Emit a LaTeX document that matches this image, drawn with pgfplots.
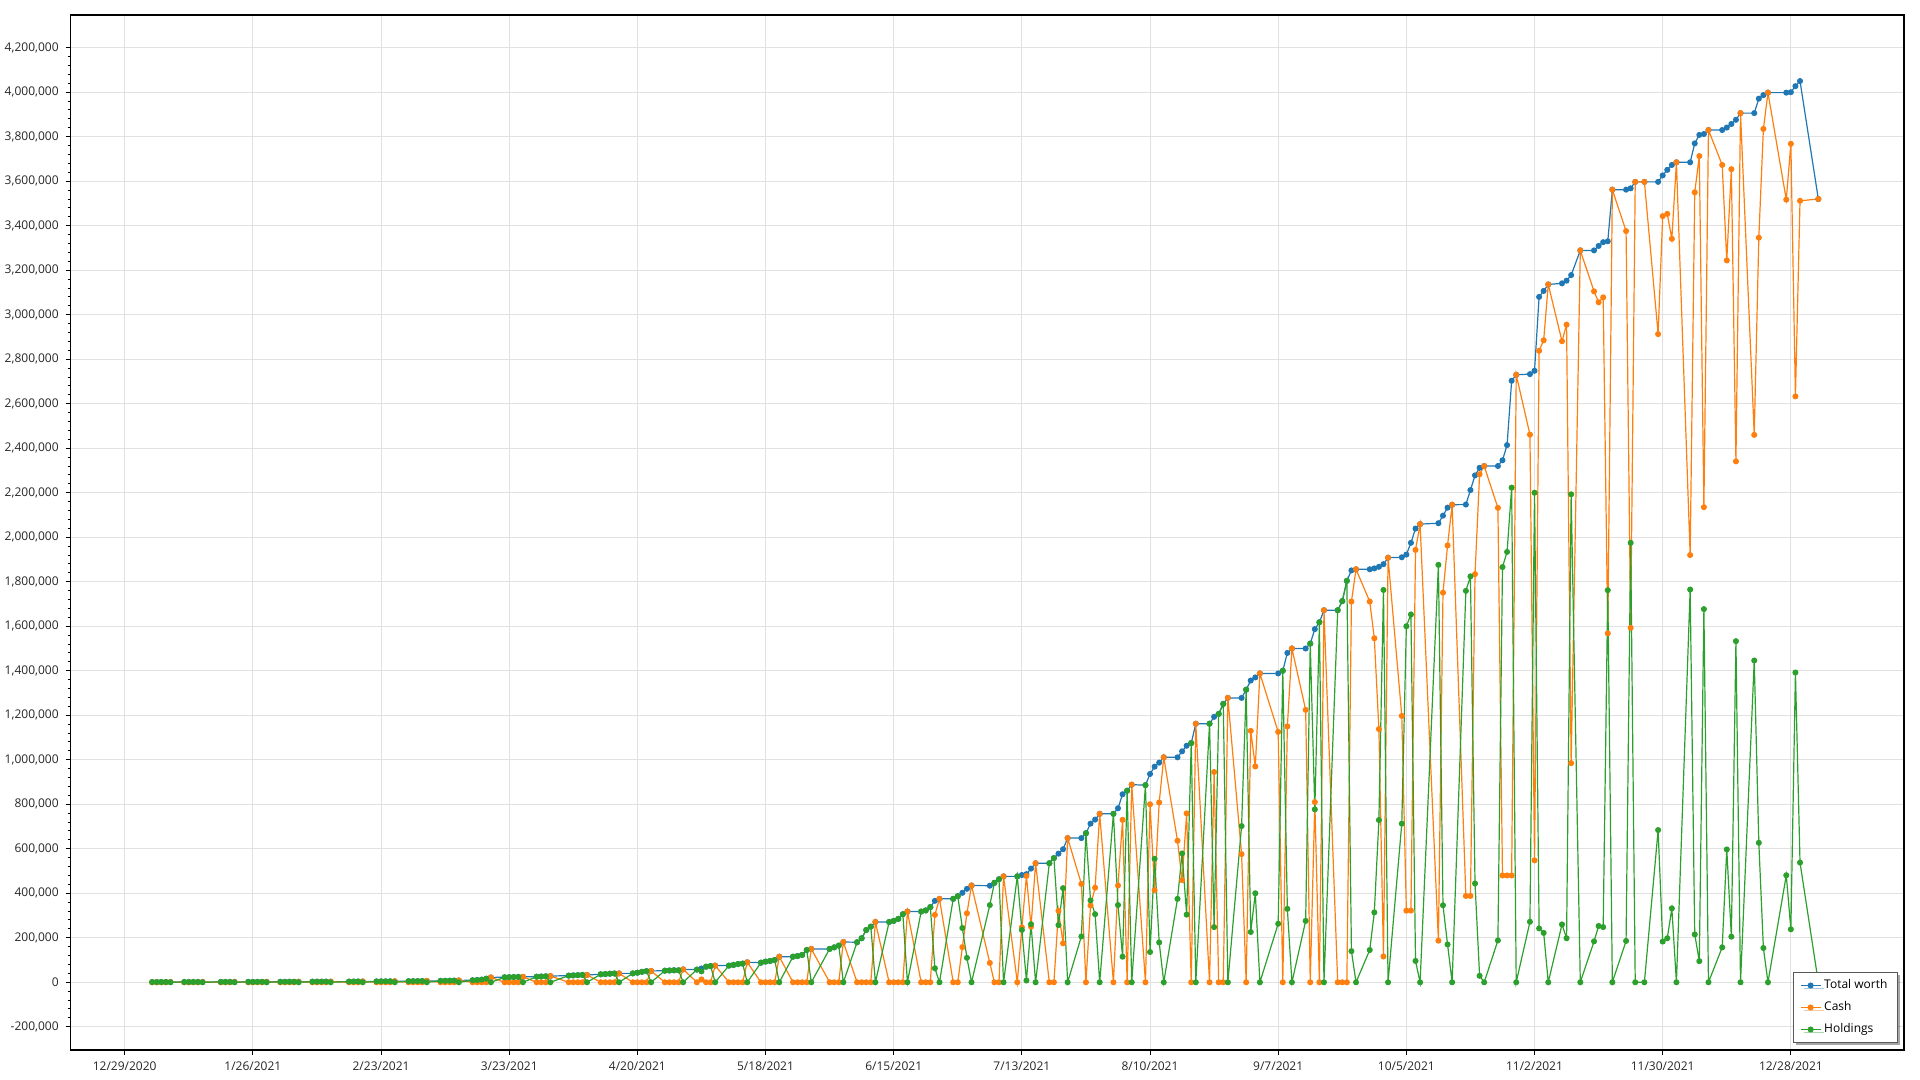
\documentclass[border=0pt]{standalone}
\usepackage{fontspec}
\setmainfont{Open Sans}
\usepackage{pgfplots}
\pgfplotsset{compat=1.18}
\usepackage{pgfplotstable}
\usetikzlibrary{shadows}

\definecolor{cT}{HTML}{1F77B4}
\definecolor{cC}{HTML}{FF7F0E}
\definecolor{cH}{HTML}{2CA02C}
\definecolor{gridc}{HTML}{E1E1E1}

% d = days since 12/29/2020, T = total worth, C = cash, H = holdings
\pgfplotstableread{
d T C H
6 1000 0 1000
7 1000 0 1000
8 1100 0 1100
9 1100 0 1100
10 1200 1200 0
13 1200 0 1200
14 1300 0 1300
15 1300 0 1300
16 1400 0 1400
17 1400 1400 0
21 1500 0 1500
22 1500 0 1500
23 1600 0 1600
24 1600 1600 0
27 1700 0 1700
28 1700 0 1700
29 1800 0 1800
30 1900 0 1900
31 2000 2000 0
34 2000 0 2000
35 2100 0 2100
36 2200 0 2200
37 2300 0 2300
38 2400 2400 0
41 2500 0 2500
42 2600 0 2600
43 2700 0 2700
44 2800 0 2800
45 3000 3000 0
49 3100 0 3100
50 3300 0 3300
51 3500 0 3500
52 3700 3700 0
55 3800 0 3800
56 4000 0 4000
57 4200 0 4200
58 4400 0 4400
59 4600 4600 0
62 4800 0 4800
63 5000 0 5000
64 5300 0 5300
65 5600 0 5600
66 6000 6000 0
69 6300 0 6300
70 6600 0 6600
71 7000 0 7000
72 7500 0 7500
73 8500 8500 0
76 9000 0 9000
77 10000 0 10000
78 12000 0 12000
79 16000 0 16000
80 22000 22000 0
83 22500 0 22500
84 23000 0 23000
85 23500 0 23500
86 24000 0 24000
87 24500 24500 0
90 25000 0 25000
91 26000 0 26000
92 27000 0 27000
93 28000 28000 0
97 30000 0 30000
98 31000 0 31000
99 32000 0 32000
100 33000 0 33000
101 33000 33000 0
104 36000 0 36000
105 37000 0 37000
106 38500 0 38500
107 39500 0 39500
108 40000 40000 0
111 40000 0 40000
112 43000 0 43000
113 47000 0 47000
114 50000 0 50000
115 51000 51000 0
118 52000 0 52000
119 53000 0 53000
120 54000 0 54000
121 54000 0 54000
122 58000 58000 0
125 57000 0 57000
126 62000 13000 49000
127 70000 0 70000
128 73000 0 73000
129 75000 75000 0
132 75000 0 75000
133 78000 0 78000
134 82000 0 82000
135 84000 0 84000
136 90000 90000 0
139 88000 0 88000
140 93000 0 93000
141 96000 0 96000
142 100000 0 100000
143 115000 115000 0
146 115000 0 115000
147 118000 0 118000
148 123000 0 123000
149 145000 0 145000
150 150000 150000 0
154 150000 0 150000
155 157000 0 157000
156 165000 0 165000
157 181000 181000 0
160 180000 0 180000
161 198000 0 198000
162 235000 0 235000
163 250000 0 250000
164 271000 271000 0
167 271000 0 271000
168 276000 0 276000
169 285000 0 285000
170 306000 0 306000
171 318000 318000 0
174 318000 0 318000
175 323000 0 323000
176 338000 0 338000
177 366000 303000 63000
178 375000 375000 0
181 375000 0 375000
182 387000 0 387000
183 402000 158000 244000
184 420000 310000 110000
185 435000 435000 0
189 434000 87000 347000
190 447000 0 447000
191 463000 0 463000
192 476000 476000 0
195 476000 0 476000
196 482000 247000 235000
197 486000 478000 8000
198 511000 250000 261000
199 535000 535000 0
202 535000 0 535000
203 558000 0 558000
204 578000 321000 257000
205 598000 175000 423000
206 648000 648000 0
209 648000 442000 206000
210 670000 0 670000
211 713000 345000 368000
212 731000 425000 306000
213 757000 757000 0
216 757000 0 757000
217 782000 435000 347000
218 845000 730000 115000
219 861000 0 861000
220 888000 888000 0
223 886000 0 886000
224 936000 800000 136000
225 969000 414000 555000
226 987000 808000 179000
227 1011000 1011000 0
230 1011000 636000 375000
231 1038000 459000 579000
232 1063000 759000 304000
233 1075000 0 1075000
234 1162000 1162000 0
237 1162000 0 1162000
238 1193000 945000 248000
239 1206000 0 1206000
240 1251000 0 1251000
241 1278000 1278000 0
244 1278000 576000 702000
245 1315000 0 1315000
246 1356000 1130000 226000
247 1370000 970000 400000
248 1388000 1388000 0
252 1388000 1125000 263000
253 1400000 0 1400000
254 1480000 1150000 330000
255 1500000 1500000 0
258 1500000 1224000 276000
259 1522000 0 1522000
260 1587000 810000 777000
261 1618000 0 1618000
262 1672000 1672000 0
265 1672000 0 1672000
266 1713000 0 1713000
267 1804000 0 1804000
268 1851000 1711000 140000
269 1856000 1856000 0
272 1856000 1711000 145000
273 1860000 1546000 314000
274 1867000 1138000 729000
275 1879000 116000 1763000
276 1908000 1908000 0
279 1910000 1197000 713000
280 1922000 322000 1600000
281 1975000 322000 1653000
282 2039000 1943000 96000
283 2059000 2059000 0
287 2063000 187000 1876000
288 2097000 1751000 346000
289 2133000 1963000 170000
290 2146000 2146000 0
293 2147000 388000 1759000
294 2212000 388000 1824000
295 2278000 1834000 444000
296 2312000 2283000 29000
297 2320000 2320000 0
300 2320000 2132000 188000
301 2346000 480000 1866000
302 2414000 480000 1934000
303 2703000 480000 2223000
304 2730000 2730000 0
307 2733000 2461000 272000
308 2748000 548000 2200000
309 3080000 2838000 242000
310 3107000 2885000 222000
311 3136000 3136000 0
314 3141000 2881000 260000
315 3153000 2955000 198000
316 3178000 985000 2193000
318 3289000 3289000 0
321 3289000 3105000 184000
322 3309000 3056000 253000
323 3326000 3078000 248000
324 3330000 1568000 1762000
325 3562000 3562000 0
328 3562000 3376000 186000
329 3568000 1593000 1975000
330 3597000 3597000 0
332 3597000 3597000 0
335 3597000 2913000 684000
336 3626000 3443000 183000
337 3651000 3453000 198000
338 3673000 3341000 332000
339 3685000 3685000 0
342 3685000 1920000 1765000
343 3770000 3550000 215000
344 3808000 3713000 95000
345 3812000 2135000 1677000
346 3830000 3830000 0
349 3830000 3673000 157000
350 3841000 3244000 597000
351 3857000 3654000 205000
352 3876000 2341000 1533000
353 3906000 3906000 0
356 3906000 2460000 1446000
357 3971000 3346000 627000
358 3987000 3835000 154000
359 3998000 3998000 0
363 3998000 3517000 481000
364 4000000 3768000 238000
365 4027000 2633000 1392000
366 4050000 3512000 538000
370 3520000 3520000 0
}\data

\begin{document}
\begin{tikzpicture}
\useasboundingbox (0,0) rectangle (960pt,540pt);
\begin{axis}[
  scale only axis,
  width=916.6pt, height=517.5pt,
  at={(35.35pt,15pt)}, anchor=south west,
  xmin=-11.8, xmax=388.7,
  ymin=-304300, ymax=4347000,
  xtick={0,28,...,364},
  xticklabels={12/29/2020,1/26/2021,2/23/2021,3/23/2021,4/20/2021,5/18/2021,6/15/2021,7/13/2021,8/10/2021,9/7/2021,10/5/2021,11/2/2021,11/30/2021,12/28/2021},
  ytick={-200000,0,...,4200000},
  minor y tick num=4,
  scaled y ticks=false,
  /pgf/number format/assume math mode=true,
  yticklabel style={/pgf/number format/.cd, fixed, precision=0, 1000 sep={,}},
  tick label style={font=\fontsize{6}{7}\selectfont, text=black!85},
  tick pos=left,
  tick align=outside,
  major tick length=2.5pt,
  minor tick length=1.5pt,
  every tick/.style={black, line width=0.5pt},
  grid=major,
  grid style={gridc, line width=0.5pt},
  axis line style={black, line width=0.6pt},
  legend image code/.code={\draw[mark repeat=2,mark phase=2] plot coordinates {(0pt,0pt) (5pt,0pt) (10pt,0pt)};},
  legend cell align=left,
  legend style={at={(axis description cs:1,0)}, anchor=south east, xshift=-3pt, yshift=3.5pt,
    draw=black!65, line width=0.5pt, fill=white,
    font=\fontsize{6}{7}\selectfont,
    inner xsep=3.5pt, inner ysep=2pt, row sep=2pt,
    nodes={inner sep=1.5pt, text height=4.6pt, text depth=1.4pt},
    drop shadow={shadow xshift=1.5pt, shadow yshift=-1.5pt, fill=black, opacity=0.35}},
]
\addplot[cT, line width=0.6pt, mark=*, mark size=1.2pt] table[x=d, y=T] {\data};
\addlegendentry{Total worth}
\addplot[cC, line width=0.6pt, mark=*, mark size=1.2pt] table[x=d, y=C] {\data};
\addlegendentry{Cash}
\addplot[cH, line width=0.6pt, mark=*, mark size=1.2pt] table[x=d, y=H] {\data};
\addlegendentry{Holdings}
\end{axis}
\end{tikzpicture}
\end{document}
